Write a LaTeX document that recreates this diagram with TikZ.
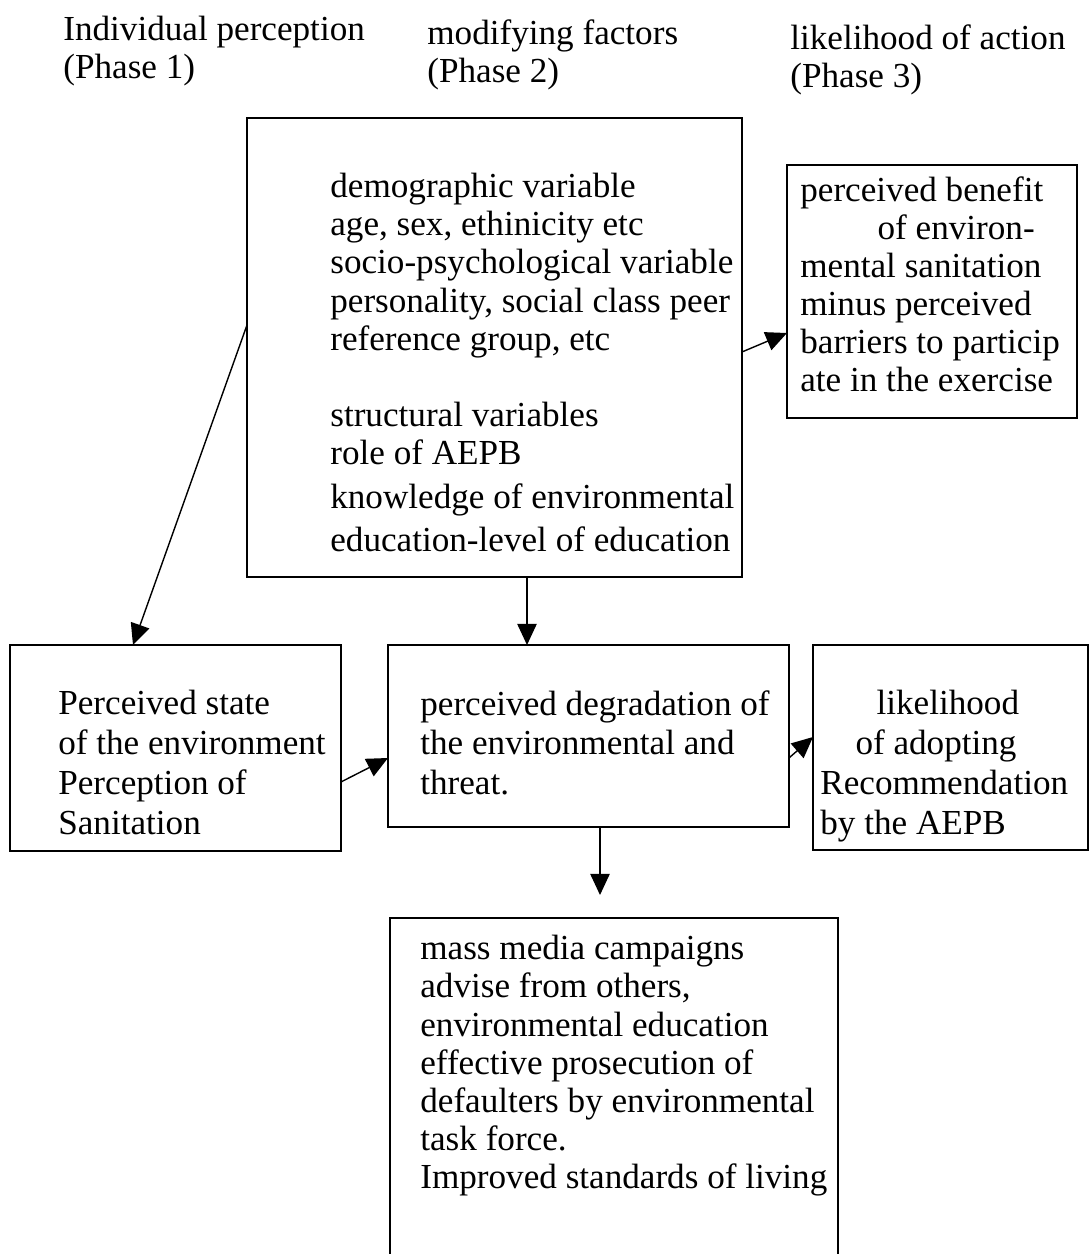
\documentclass[tikz,border=0pt]{standalone}
\usepackage{fontspec}
\setmainfont{Liberation Serif}
\usetikzlibrary{arrows.meta,calc}
\newcommand{\textphasea}{Individual perception\\ (Phase 1)}
\newcommand{\textphaseb}{modifying factors\\ (Phase 2)}
\newcommand{\textphasec}{likelihood of action\\ (Phase 3)}
\newcommand{\textdemog}{demographic variable\\ age, sex, ethinicity etc\\
  socio-psychological variable\\ personality, social class peer\\
  reference group, etc\\[21.7pt] structural variables\\ role of AEPB\\[3pt]
  knowledge of environmental\\[3pt] education-level of education}
\newcommand{\textbenefit}{perceived benefit\\ \hspace*{2.2em}of environ-\\
  mental sanitation\\ minus perceived\\ barriers to particip\\ ate in the exercise}
\newcommand{\textstate}{Perceived state\\ of the environment\\ Perception of\\ Sanitation}
\newcommand{\textdegr}{perceived degradation of\\ the environmental and\\ threat.}
\newcommand{\textlikely}{\hspace*{1.6em}likelihood\\ \hspace*{1em}of adopting\\
  Recommendation\\ by the AEPB}
\newcommand{\textmedia}{mass media campaigns\\ advise from others,\\
  environmental education\\ effective prosecution of\\
  defaulters by environmental\\ task force.\\ Improved standards of living}

\begin{document}
\begin{tikzpicture}[
    x=0.02cm, y=-0.02cm,
    box/.style={draw, line width=0.8pt, anchor=north west,
                inner sep=0pt, outer sep=0pt},
    txt/.style={anchor=north west, align=left, inner sep=0pt,
                font=\fontsize{20}{21.7}\selectfont},
    txtwide/.style={txt, font=\fontsize{20}{22.7}\selectfont},
    arr/.style={line width=0.8pt, -{Triangle[length=12pt,width=11pt]}}
]
\clip (0,0) rectangle (1089,1254);

% phase headings
\node[txt] (phasea) at (63,16) {\textphasea};
\node[txt] (phaseb) at (427,19) {\textphaseb};
\node[txt] (phasec) at (790,24) {\textphasec};

% boxes
\node[box, minimum width=9.9cm, minimum height=9.18cm] (demog) at (247,118) {};
\node[box, minimum width=5.8cm, minimum height=5.06cm] (benefit) at (787,165) {};
\node[box, minimum width=6.62cm, minimum height=4.12cm] (state) at (10,645) {};
\node[box, minimum width=8.02cm, minimum height=3.64cm] (degr) at (388,645) {};
\node[box, minimum width=5.5cm, minimum height=4.1cm] (likely) at (813,645) {};
\node[box, minimum width=8.96cm, minimum height=8cm] (media) at (390,918) {};

% texts
\node[txt] (demogtext) at (330,173) {\textdemog};
\node[txt] (benefittext) at (800,176) {\textbenefit};
\node[txtwide] (statetext) at (58,690) {\textstate};
\node[txtwide] (degrtext) at (420,690) {\textdegr};
\node[txtwide] (likelytext) at (820,690) {\textlikely};
\node[txt] (mediatext) at (420,935) {\textmedia};

% arrows
\coordinate (mediatip) at ($(media.north west)+(210,-23)$);
\draw[arr] ($(demog.north west)+(0,207)$) -- ($(state.north west)+(123,0)$);
\draw[arr] ($(demog.north east)+(0,234)$) -- ($(benefit.north west)+(0,168)$);
\draw[arr] ($(demog.south west)+(280,0)$) -- ($(degr.north west)+(139,0)$);
\draw[arr] ($(state.north east)+(0,137)$) -- ($(degr.north west)+(0,113)$);
\draw[arr] ($(degr.north east)+(0,113)$) -- ($(likely.north west)+(0,92)$);
\draw[arr] ($(degr.south west)+(212,0)$) -- (mediatip);

\end{tikzpicture}
\end{document}
